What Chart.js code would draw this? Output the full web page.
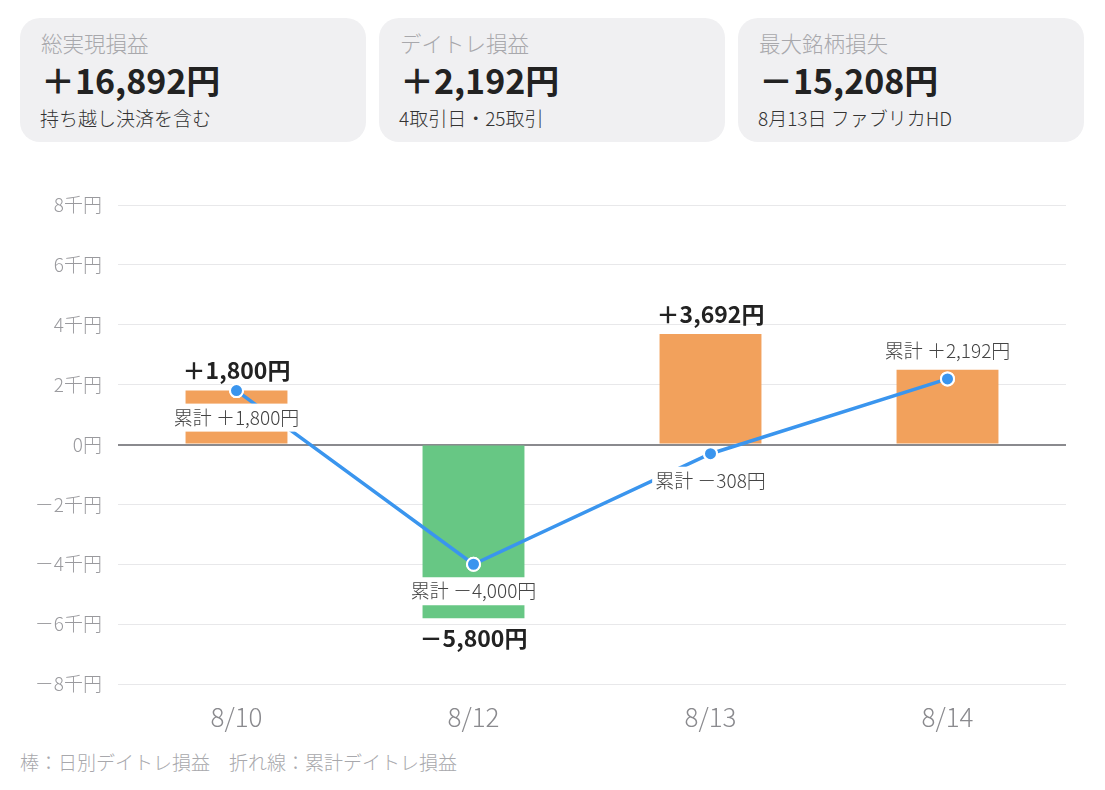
<!DOCTYPE html>
<html>
<head>
<meta charset="utf-8">
<script src="https://cdn.jsdelivr.net/npm/chart.js@4/dist/chart.umd.min.js"></script>
<style>
  body { margin: 0; background: #fff; font-family: "Noto Sans CJK JP", "Noto Sans", sans-serif; font-weight: 300; }
  .page { position: relative; width: 1105px; height: 790px; overflow: hidden; }
  .card { position: absolute; top: 18px; width: 346px; height: 124px; background: #f0f0f2; border-radius: 20px; }
  .card .t { position: absolute; left: 21px; top: 10px; font-size: 21.5px; line-height: 30px; color: #a8a8ac; }
  .card .v { position: absolute; left: 21px; top: 41px; font-size: 34px; line-height: 42px; font-weight: 700; color: #222; }
  .card .s { position: absolute; left: 20px; top: 87px; font-size: 19px; line-height: 26px; color: #333; }
  .chartbox { position: absolute; left: 0; top: 160px; width: 1105px; height: 580px; }
  .foot { position: absolute; left: 20px; top: 748px; font-size: 19px; line-height: 28px; color: #a8a8ac; }
</style>
</head>
<body>
<div class="page">
  <div class="card" style="left:20px"><div class="t">総実現損益</div><div class="v">＋16,892円</div><div class="s">持ち越し決済を含む</div></div>
  <div class="card" style="left:379px"><div class="t">デイトレ損益</div><div class="v">＋2,192円</div><div class="s">4取引日・25取引</div></div>
  <div class="card" style="left:738px"><div class="t">最大銘柄損失</div><div class="v">－15,208円</div><div class="s">8月13日 ファブリカHD</div></div>
  <div class="chartbox"><canvas id="pnlChart"></canvas></div>
  <div class="foot">棒：日別デイトレ損益　折れ線：累計デイトレ損益</div>
</div>
<script>
// data
const days = ['8/10', '8/12', '8/13', '8/14'];
const dailyPnl = [1800, -5800, 3692, 2500];
const cumulativePnl = [1800, -4000, -308, 2192];
const yTicks = [-8000, -6000, -4000, -2000, 0, 2000, 4000, 6000, 8000];

const ORANGE = '#f2a15c';
const GREEN = '#67c784';
const BLUE = '#3a95ee';
const FONT = '"Noto Sans CJK JP", "Noto Sans", sans-serif';

function yen(v) {
  const sign = v > 0 ? '＋' : v < 0 ? '－' : '';
  return sign + Math.abs(v).toLocaleString('en-US') + '円';
}

const labelPlugin = {
  id: 'pnlLabels',
  afterDatasetsDraw(chart) {
    const ctx = chart.ctx;
    const bars = chart.getDatasetMeta(0).data;
    const pts = chart.getDatasetMeta(1).data;
    const last = pts.length - 1;
    ctx.save();
    ctx.textAlign = 'center';
    ctx.textBaseline = 'middle';

    // cumulative labels with a white box
    ctx.font = '300 19px ' + FONT;
    pts.forEach((p, i) => {
      const txt = '累計 ' + yen(cumulativePnl[i]);
      const y = i === last ? p.y - 28 : p.y + 27;
      const w = ctx.measureText(txt).width + 6;
      ctx.fillStyle = '#fff';
      ctx.fillRect(p.x - w / 2, y - 14, w, 28);
      ctx.fillStyle = '#444';
      ctx.fillText(txt, p.x, y);
    });

    // redraw points so they sit over the boxes
    pts.forEach((p) => p.draw(ctx, chart.chartArea));

    // daily bar labels
    ctx.font = 'bold 23px ' + FONT;
    ctx.fillStyle = '#222';
    bars.forEach((b, i) => {
      if (i === last) return;
      const v = dailyPnl[i];
      const y = v >= 0 ? b.y - 20 : b.y + 20;
      ctx.fillText(yen(v), b.x, y);
    });
    ctx.restore();
  }
};

const ctx = document.getElementById('pnlChart').getContext('2d');
new Chart(ctx, {
  type: 'bar',
  data: {
    labels: days,
    datasets: [
      {
        type: 'bar',
        data: dailyPnl,
        backgroundColor: dailyPnl.map((v) => (v >= 0 ? ORANGE : GREEN)),
        categoryPercentage: 1,
        barPercentage: 0.43,
        order: 2
      },
      {
        type: 'line',
        data: cumulativePnl,
        borderColor: BLUE,
        borderWidth: 3.5,
        pointBackgroundColor: BLUE,
        pointBorderColor: '#fff',
        pointBorderWidth: 2,
        pointRadius: 6.5,
        tension: 0,
        order: 1
      }
    ]
  },
  options: {
    responsive: true,
    maintainAspectRatio: false,
    animation: false,
    layout: { padding: { top: 45, right: 39, left: 0, bottom: 0 } },
    plugins: { legend: { display: false }, tooltip: { enabled: false } },
    scales: {
      x: {
        grid: { display: false, drawTicks: false },
        border: { display: false },
        ticks: { color: '#8a8a8e', font: { size: 26, family: FONT, weight: 300 }, padding: 18 },
        afterFit: (s) => { s.height = 56; }
      },
      y: {
        min: -8000,
        max: 8000,
        afterBuildTicks: (s) => { s.ticks = yTicks.map((v) => ({ value: v })); },
        grid: {
          drawTicks: false,
          color: (c) => (c.tick && c.tick.value === 0 ? '#8a8a8e' : '#e8e8ea'),
          lineWidth: (c) => (c.tick && c.tick.value === 0 ? 2 : 1)
        },
        border: { display: false },
        ticks: {
          color: '#9a9a9e',
          font: { size: 19, family: FONT, weight: 300 },
          padding: 16,
          callback: (v) => (v === 0 ? '0円' : (v < 0 ? '－' : '') + Math.abs(v / 1000) + '千円')
        },
        afterFit: (s) => { s.width = 118; }
      }
    }
  },
  plugins: [labelPlugin]
});
</script>
</body>
</html>
